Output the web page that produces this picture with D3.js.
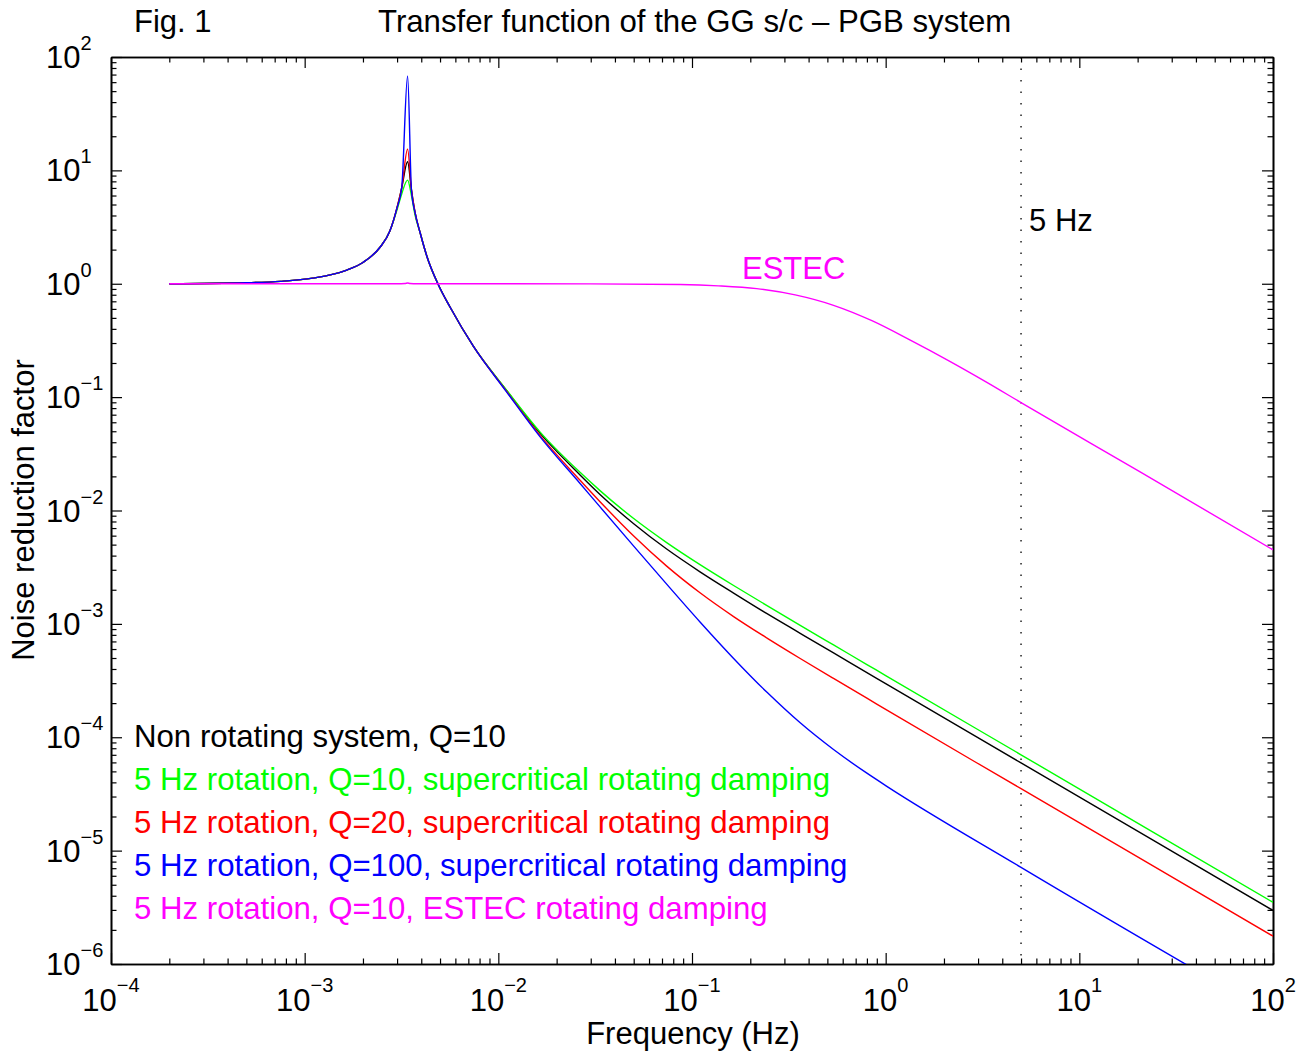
<!DOCTYPE html>
<html>
<head>
<meta charset="utf-8">
<script src="https://cdn.jsdelivr.net/npm/d3@7"></script>
<style>
    body { margin: 0; background: #fff; }
    text { font-family: "Liberation Sans", Arial, Helvetica, sans-serif; }
</style>
</head>
<body>
<div id="chart"></div>
<script>

// values (frequency in Hz, noise reduction factor)
const freq = [2e-4, 5e-4, 7.5e-4, 1.1e-3, 1.65e-3, 2.0e-3, 2.45e-3, 2.75e-3, 3.0e-3, 3.17e-3,
    3.4e-3, 3.56e-3, 3.72e-3, 3.95e-3, 4.27e-3, 4.9e-3, 5.64e-3, 7.44e-3, 0.011, 0.0164,
    0.0265, 0.0336, 0.05, 0.074, 0.11, 0.164, 0.244, 0.362, 0.538, 0.80, 1.0, 5.0, 100];

const nonRotating = [1.0, 1.02, 1.05, 1.12, 1.32, 1.54, 2.1, 2.9, 4.7, 7.0,
    11.9, 6.7, 4.2, 2.8, 1.76, 0.98, 0.62, 0.28, 0.115, 0.0481,
    0.0205, 0.0138, 7.64e-3, 4.57e-3, 2.88e-3, 1.87e-3, 1.23e-3, 8.26e-4, 5.54e-4, 3.72e-4, 2.97e-4, 5.94e-5, 2.97e-6];

const rotQ10 = [1.0, 1.02, 1.05, 1.12, 1.32, 1.54, 2.1, 2.9, 4.5, 6.2,
    8.2, 6.0, 4.0, 2.8, 1.76, 0.98, 0.62, 0.28, 0.116, 0.0494,
    0.0216, 0.0149, 8.49e-3, 5.21e-3, 3.33e-3, 2.18e-3, 1.45e-3, 9.71e-4, 6.52e-4, 4.38e-4, 3.5e-4, 7.0e-5, 3.5e-6];

const rotQ20 = [1.0, 1.02, 1.05, 1.12, 1.32, 1.54, 2.1, 2.9, 4.7, 7.0,
    15.4, 6.7, 4.2, 2.8, 1.76, 0.98, 0.62, 0.28, 0.113, 0.0460,
    0.0184, 0.0119, 5.95e-3, 3.23e-3, 1.88e-3, 1.16e-3, 7.49e-4, 4.95e-4, 3.30e-4, 2.21e-4, 1.76e-4, 3.52e-5, 1.76e-6];

const rotQ100 = [1.0, 1.02, 1.05, 1.12, 1.32, 1.54, 2.1, 2.9, 4.7, 7.0,
    68, 6.7, 4.2, 2.8, 1.76, 0.98, 0.62, 0.28, 0.112, 0.0448,
    0.0172, 0.0107, 4.85e-3, 2.24e-3, 1.04e-3, 4.96e-4, 2.49e-4, 1.34e-4, 7.79e-5, 4.82e-5, 3.75e-5, 7.12e-6, 3.55e-7];

const estecFreq = [2e-4, 1e-3, 3.0e-3, 3.3e-3, 3.4e-3, 3.5e-3, 3.8e-3, 0.01, 0.03, 0.0869,
    0.137, 0.216, 0.341, 0.538, 0.849, 1.34, 2.11, 3.33, 5, 20.6, 100];
const estecVal = [1.0, 1.0, 1.0, 1.005, 1.015, 1.005, 1.0, 1.0, 0.998, 0.984,
    0.958, 0.905, 0.797, 0.645, 0.472, 0.318, 0.210, 0.135, 0.0895, 0.0219, 0.0045];

const xExponents = [-4, -3, -2, -1, 0, 1, 2];
const yExponents = [-6, -5, -4, -3, -2, -1, 0, 1, 2];

const legendLabels = [
    "Non rotating system, Q=10",
    "5 Hz rotation, Q=10, supercritical rotating damping",
    "5 Hz rotation, Q=20, supercritical rotating damping",
    "5 Hz rotation, Q=100, supercritical rotating damping",
    "5 Hz rotation, Q=10, ESTEC rotating damping"
];
const seriesColors = ["#000000", "#00ff00", "#ff0000", "#0000ff", "#ff00ff"];

const spinFreq = 5;


class TransferPlot {

    constructor(parentElement){
        this.parentElement = parentElement;
        this.series = [
            freq.map((f, i) => [f, nonRotating[i]]),
            freq.map((f, i) => [f, rotQ10[i]]),
            freq.map((f, i) => [f, rotQ20[i]]),
            freq.map((f, i) => [f, rotQ100[i]]),
            estecFreq.map((f, i) => [f, estecVal[i]])
        ];
        this.initVis();
    }

    initVis(){
        let vis = this;

        vis.margin = {top: 57, right: 42, bottom: 91, left: 111};
        vis.width = 1315 - vis.margin.left - vis.margin.right;
        vis.height = 1055 - vis.margin.top - vis.margin.bottom;

        vis.root = d3.select("#" + vis.parentElement).append("svg")
            .attr("width", 1315)
            .attr("height", 1055);

        vis.svg = vis.root.append("g")
            .attr("transform", `translate(${vis.margin.left}, ${vis.margin.top})`);

        vis.x = d3.scaleLog()
            .domain([1e-4, 1e2])
            .range([0, vis.width]);

        vis.y = d3.scaleLog()
            .domain([1e-6, 1e2])
            .range([vis.height, 0]);

        vis.svg.append("clipPath")
            .attr("id", "plot-clip")
            .append("rect")
            .attr("width", vis.width)
            .attr("height", vis.height);

        vis.updateVis();
    }

    updateVis(){
        let vis = this;

        let xMajor = xExponents.map(e => Math.pow(10, e));
        let yMajor = yExponents.map(e => Math.pow(10, e));
        let xMinor = xMajor.slice(0, -1).flatMap(d => d3.range(2, 10).map(k => d * k));
        let yMinor = yMajor.slice(0, -1).flatMap(d => d3.range(2, 10).map(k => d * k));

        // ticks on all four sides, pointing inwards
        let axes = [
            {gen: d3.axisBottom(vis.x), pos: `translate(0, ${vis.height})`, major: xMajor, minor: xMinor},
            {gen: d3.axisTop(vis.x), pos: "translate(0, 0)", major: xMajor, minor: xMinor},
            {gen: d3.axisLeft(vis.y), pos: "translate(0, 0)", major: yMajor, minor: yMinor},
            {gen: d3.axisRight(vis.y), pos: `translate(${vis.width}, 0)`, major: yMajor, minor: yMinor}
        ];

        axes.forEach(a => {
            let g = vis.svg.append("g").attr("transform", a.pos);
            g.append("g").call(a.gen.tickValues(a.minor).tickSize(-5.5).tickSizeOuter(0).tickFormat(""));
            g.append("g").call(a.gen.tickValues(a.major).tickSize(-11).tickSizeOuter(0).tickFormat(""));
        });
        vis.svg.selectAll(".domain").attr("stroke", "#000").attr("stroke-width", 1.6);
        vis.svg.selectAll(".tick line").attr("stroke", "#000").attr("stroke-width", 1.2);

        // tick labels as 10 with a superscript exponent
        let supText = e => (e < 0 ? "\u2212" + Math.abs(e) : String(e));

        let xLabels = vis.svg.append("g").selectAll("text")
            .data(xExponents)
            .join("text")
            .attr("x", d => vis.x(Math.pow(10, d)))
            .attr("y", vis.height + 47)
            .attr("text-anchor", "middle")
            .attr("font-size", 31);
        xLabels.append("tspan").text("10");
        xLabels.append("tspan").attr("dy", -19).attr("font-size", 20).text(d => supText(d));

        let yLabels = vis.svg.append("g").selectAll("text")
            .data(yExponents)
            .join("text")
            .attr("x", 46 - vis.margin.left)
            .attr("y", d => vis.y(Math.pow(10, d)) + 11)
            .attr("font-size", 31);
        yLabels.append("tspan").text("10");
        yLabels.append("tspan").attr("dy", -18).attr("font-size", 20).text(d => supText(d));

        // 5 Hz marker
        vis.svg.append("line")
            .attr("x1", vis.x(spinFreq))
            .attr("x2", vis.x(spinFreq))
            .attr("y1", 0)
            .attr("y2", vis.height)
            .attr("stroke", "#000")
            .attr("stroke-width", 1.3)
            .attr("stroke-dasharray", "1.5,10");

        vis.svg.append("text")
            .attr("x", vis.x(spinFreq) + 8)
            .attr("y", 231 - vis.margin.top)
            .attr("font-size", 31)
            .text("5 Hz");

        // curves
        vis.line = d3.line()
            .x(d => vis.x(d[0]))
            .y(d => vis.y(d[1]))
            .curve(d3.curveMonotoneX);

        vis.svg.append("g")
            .attr("clip-path", "url(#plot-clip)")
            .selectAll(".curve")
            .data(vis.series)
            .join("path")
            .attr("class", "curve")
            .attr("d", d => vis.line(d))
            .attr("fill", "none")
            .attr("stroke", (d, i) => seriesColors[i])
            .attr("stroke-width", 1.4);

        vis.svg.append("text")
            .attr("x", 742 - vis.margin.left)
            .attr("y", 279 - vis.margin.top)
            .attr("font-size", 31)
            .attr("fill", seriesColors[4])
            .text("ESTEC");

        // legend
        vis.svg.append("g")
            .selectAll("text")
            .data(legendLabels)
            .join("text")
            .attr("x", 134 - vis.margin.left)
            .attr("y", (d, i) => 747 - vis.margin.top + i * 43)
            .attr("font-size", 31.2)
            .attr("fill", (d, i) => seriesColors[i])
            .text(d => d);

        // titles
        vis.root.append("text")
            .attr("x", 134)
            .attr("y", 32)
            .attr("font-size", 31)
            .text("Fig. 1");

        vis.root.append("text")
            .attr("x", 378)
            .attr("y", 32)
            .attr("font-size", 31.2)
            .text("Transfer function of the GG s/c \u2013 PGB system");

        vis.root.append("text")
            .attr("x", 693)
            .attr("y", 1044)
            .attr("text-anchor", "middle")
            .attr("font-size", 31)
            .text("Frequency (Hz)");

        vis.root.append("text")
            .attr("transform", "translate(34, 510) rotate(-90)")
            .attr("text-anchor", "middle")
            .attr("font-size", 31)
            .text("Noise reduction factor");
    }
}

new TransferPlot("chart");

</script>
</body>
</html>
